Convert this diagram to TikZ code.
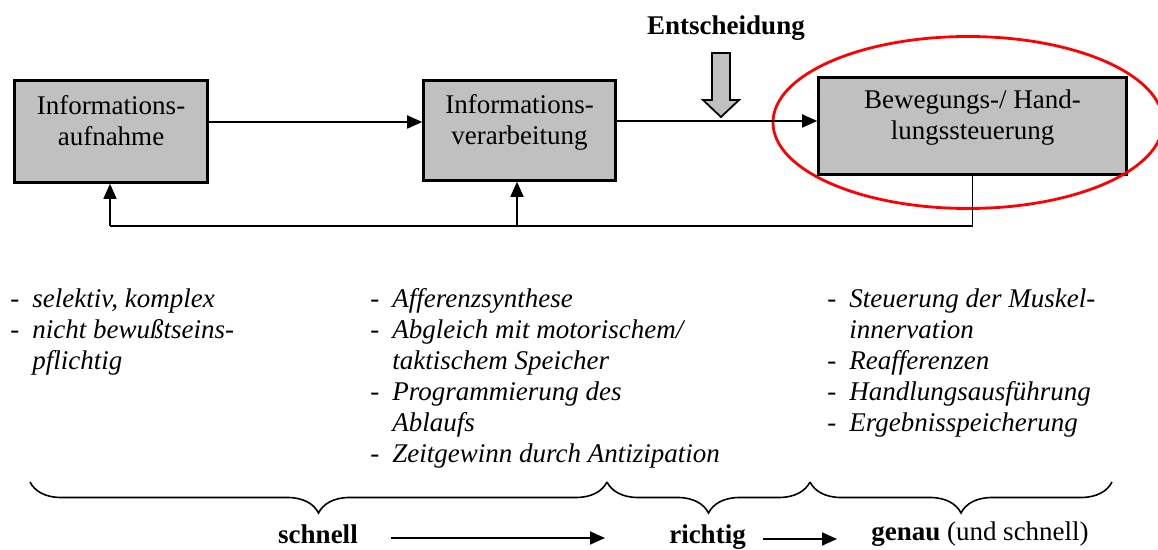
\documentclass[tikz,border=0pt]{standalone}
\usepackage{fontspec}
\setmainfont{Liberation Serif}
\usetikzlibrary{arrows.meta,decorations.pathreplacing}
\definecolor{boxgray}{RGB}{192,192,192}
\newcommand{\grund}{\fontsize{13.5}{15.5}\selectfont}
\newcommand{\stich}{\makebox[11pt][l]{\upshape -}}
\newcommand{\weiter}{\hspace*{11pt}}

\tikzset{
	stage/.style={draw=black, line width=1.3pt, fill=boxgray},
	stagetext/.style={align=center, inner sep=0pt, anchor=north},
	flow/.style={draw=black, line width=0.9pt, -{Triangle[length=7.5pt,width=6.5pt]}},
	fback/.style={draw=black, line width=0.8pt},
	notes/.style={align=left, anchor=north west, inner sep=0pt, font=\grund\itshape},
	curly/.style={draw=black, line width=0.8pt, decorate, decoration={brace, mirror, amplitude=15.5pt}},
	result/.style={inner sep=0pt, anchor=base},
}

\begin{document}
\begin{tikzpicture}[x=0.5pt, y=-0.5pt, font=\grund]
		\useasboundingbox (0,0) rectangle (1158,550);
		
		% die drei Stufen
		\node[stage, minimum width=96.5pt, minimum height=51pt] (auf) at (111,131.5) {};
		\node[stagetext] (tauf) at (111,95.5) {Informations-\\aufnahme};
		
		\node[stage, minimum width=96pt, minimum height=50pt] (ver) at (519.5,130.5) {};
		\node[stagetext] (tver) at (519.5,94.5) {Informations-\\verarbeitung};
		
		\node[stage, minimum width=154pt, minimum height=48.5pt] (steu) at (972.5,126) {};
		\node[stagetext] (tsteu) at (972.5,89.5) {Bewegungs-/ Hand-\\lungssteuerung};
		
		\draw[red, line width=1.4pt] (968,122.5) ellipse [x radius=195, y radius=86];
		
		% Entscheidung
		\node[inner sep=0pt, font=\grund\bfseries] (ent) at (726,28) {Entscheidung};
		\draw[black, fill=boxgray, line width=0.9pt] (712,53) -- (730,53) -- (730,100) -- (739,100) -- (721,117) -- (703,100) -- (712,100) -- cycle;
		
		% Verbindungen
		\draw[flow] (auf.east |- 0,122) -- (ver.west |- 0,122);
		\draw[flow] (ver.east |- 0,121) -- (steu.west |- 0,121);
		
		\coordinate (fbr) at (steu.south |- 0,226);
		\coordinate (fbl) at (110,226);
		\draw[fback] (steu.south) -- (fbr) -- (fbl);
		\draw[fback, -{Triangle[length=7.5pt,width=6.5pt]}] (fbl) -- (fbl |- auf.south);
		\draw[fback, -{Triangle[length=7.5pt,width=6.5pt]}] (fbl -| 517,0) -- (517,0 |- ver.south);
		
		% Stichpunkte
		\node[notes] (lauf) at (10,288.5) {\stich selektiv, komplex\\
			\stich nicht bewußtseins-\\
			\weiter pflichtig};
		\node[notes] (lver) at (370,288.5) {\stich Afferenzsynthese\\
			\stich Abgleich mit motorischem/\\
			\weiter taktischem Speicher\\
			\stich Programmierung des\\
			\weiter Ablaufs\\
			\stich Zeitgewinn durch Antizipation};
		\node[notes] (lsteu) at (827,288.5) {\stich Steuerung der Muskel-\\
			\weiter innervation\\
			\stich Reafferenzen\\
			\stich Handlungsausführung\\
			\stich Ergebnisspeicherung};
		
		% Klammern
		\draw[curly] (30,482) -- (607,482);
		\draw[curly] (607,482) -- (810,482);
		\draw[curly] (810,482) -- (1112,482);
		
		\node[result, font=\grund\bfseries] (schnell) at (318,544) {schnell};
		\node[result, font=\grund\bfseries] (richtig) at (707.5,544) {richtig};
		\node[result] (genau) at (980,541) {\textbf{genau} (und schnell)};
		
		\coordinate (s1) at (391,538);
		\coordinate (s2) at (605,538);
		\coordinate (r1) at (763,539);
		\coordinate (r2) at (837,539);
		\draw[flow] (s1) -- (s2);
		\draw[flow] (r1) -- (r2);
		\end{tikzpicture}
\end{document}
